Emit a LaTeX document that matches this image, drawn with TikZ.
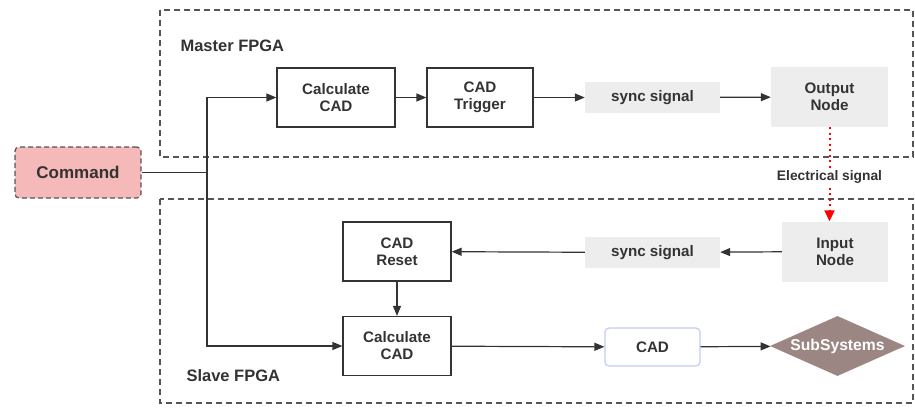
\documentclass[tikz,border=0pt]{standalone}
\usepackage{fontspec}
\setmainfont{Liberation Sans}
\usetikzlibrary{arrows.meta,shapes.geometric}
\definecolor{txt}{HTML}{333333}
\definecolor{frame}{HTML}{555555}
\definecolor{pink}{HTML}{F4B9B8}
\definecolor{lgray}{HTML}{EEEDED}
\definecolor{bluebd}{HTML}{C3CAF3}
\definecolor{brown}{HTML}{9C8683}
\tikzset{
  every node/.style={font=\bfseries\fontsize{15.2}{17}\selectfont, text=txt, align=center},
  group/.style={draw=frame, dashed, dash pattern=on 6pt off 4pt, line width=1.2pt},
  blk/.style={draw=txt, line width=1.2pt, minimum width=#1, minimum height=59pt, inner sep=0pt},
  sig/.style={fill=lgray, minimum width=135pt, minimum height=31pt, inner sep=0pt},
  nodebox/.style={fill=lgray, minimum width=#1, minimum height=60pt, inner sep=0pt},
  conn/.style={draw=txt, line width=1.2pt, -{Triangle[length=10pt,width=8pt]}},
  plain/.style={draw=txt, line width=1.2pt},
  grplabel/.style={font=\bfseries\fontsize{16.5}{18}\selectfont, anchor=west},
}
\begin{document}
\begin{tikzpicture}[x=1pt,y=-1pt]
\useasboundingbox (0,0) rectangle (915,407);
% groups
\draw[group] (160,10) rectangle (913,157);
\draw[group] (160,199) rectangle (913,403);
\node[grplabel] (mlab) at (177,46) {Master FPGA};
\node[grplabel] (slab) at (183,376) {Slave FPGA};
% command
\node[draw=frame, dashed, dash pattern=on 5pt off 3pt, line width=1.2pt, rounded corners=4pt, fill=pink, minimum width=126pt, minimum height=51pt, inner sep=0pt, font=\bfseries\fontsize{17}{19}\selectfont] (cmd) at (78,172.5) {Command};
% master
\node[blk=118pt] (calc1) at (336,97.5) {Calculate\\CAD};
\node[blk=106pt] (trig) at (480,97.5) {CAD\\Trigger};
\node[sig] (sync1) at (652.5,97.5) {sync signal};
\node[nodebox=117pt] (out) at (829.5,97) {Output\\Node};
% slave
\node[nodebox=106pt] (in) at (835,251.5) {Input\\Node};
\node[sig] (sync2) at (652.5,252.5) {sync signal};
\node[blk=108pt] (reset) at (397,251.5) {CAD\\Reset};
\node[blk=108pt] (calc2) at (397,346) {Calculate\\CAD};
\node[draw=bluebd, line width=1.2pt, rounded corners=4pt, minimum width=95pt, minimum height=38pt, inner sep=0pt] (cad) at (652.5,347) {CAD};
\node[diamond, aspect=2.25, fill=brown, text=white, minimum width=135pt, minimum height=60pt, inner sep=0pt, font=\bfseries\fontsize{15.7}{17}\selectfont] (sub) at (837.5,346) {SubSystems};
% command fan-out
\coordinate (j) at (207,172.5);
\draw[plain] (cmd.east) -- (j);
\draw[conn] (j) |- (calc1.west);
\draw[conn] (j) |- (calc2.west);
% master chain
\draw[conn] (calc1) -- (trig);
\draw[conn] (trig) -- (sync1);
\draw[conn] (sync1) -- (out);
% electrical
\draw[red, line width=2pt, dash pattern=on 2pt off 3.5pt, -{Triangle[length=11pt,width=10pt,sep=0pt]}] (out.south) -- (out.south |- in.north) node[pos=0.53, fill=white, text=txt, inner sep=3pt, font=\bfseries\fontsize{13.8}{15}\selectfont] (elab) {Electrical signal};
% slave chain
\draw[conn] (in) -- (sync2);
\draw[conn] (sync2) -- (reset);
\draw[conn] (reset) -- (calc2);
\draw[conn] (calc2) -- (cad);
\draw[conn] (cad) -- (sub);
\end{tikzpicture}
\end{document}
